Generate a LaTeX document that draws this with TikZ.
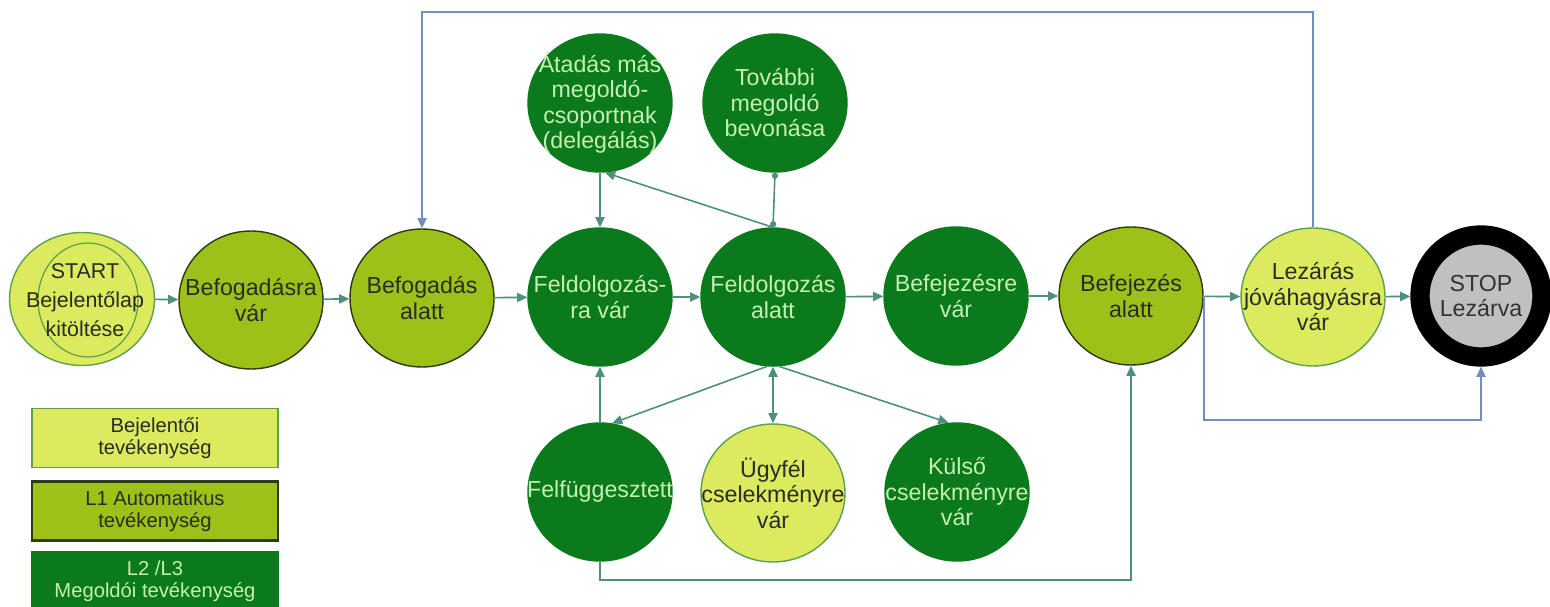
\documentclass[tikz,border=0pt]{standalone}
\usepackage{fontspec}
\setmainfont{Liberation Sans}
\usetikzlibrary{shapes.geometric,arrows.meta}
\definecolor{cLight}{HTML}{DCEB5E}
\definecolor{cLightB}{HTML}{5FA04E}
\definecolor{cMed}{HTML}{9CC21A}
\definecolor{cMedB}{HTML}{2F3A12}
\definecolor{cDark}{HTML}{0A7A1C}
\definecolor{cTxt}{HTML}{2B2B2B}
\definecolor{cTxtL}{HTML}{C6EFB4}
\definecolor{cArr}{HTML}{4E8F7E}
\definecolor{cLoop}{HTML}{6F8FBF}
\definecolor{cStop}{HTML}{C0C0C0}
\begin{document}
\begin{tikzpicture}[x=0.02cm,y=-0.02cm,
  st/.style={ellipse, inner sep=0pt, minimum width=2.88cm, minimum height=2.76cm, line width=0.8pt},
  lt/.style={st, fill=cLight, draw=cLightB},
  md/.style={st, fill=cMed, draw=cMedB},
  dk/.style={st, fill=cDark, draw=cDark},
  stopst/.style={ellipse, inner sep=0pt, minimum width=2.44cm, minimum height=2.44cm, fill=cStop, draw=black, line width=11pt},
  tx/.style={align=center, font=\fontsize{13.2}{14.5}\selectfont, inner sep=0pt, text=cTxt},
  txd/.style={tx, text=cTxtL},
  legbox/.style={rectangle, inner sep=0pt, minimum width=4.92cm, minimum height=1.18cm, line width=0.9pt, align=center, font=\fontsize{11.5}{12.6}\selectfont},
  ar/.style={draw=cArr, line width=0.9pt, -{Triangle[length=5.8pt,width=5.2pt]}},
  lp/.style={draw=cLoop, line width=0.9pt, -{Triangle[length=5.8pt,width=5.2pt]}},
  dotl/.style={draw=cArr, line width=0.9pt, {Circle[length=3.5pt]}-{Circle[length=3.5pt]}}
]
\clip (0,0) rectangle (1550,607);
\fill[white] (0,0) rectangle (1550,607);

\coordinate (topy) at (0,12);
\coordinate (lowy) at (0,580);
\coordinate (ry) at (0,420);

% main row
\node[lt, minimum width=2.9cm, minimum height=2.66cm] (start) at (82,299) {};
\node[st, draw=cLightB, fill=none, line width=0.7pt, minimum width=2.0cm, minimum height=2.28cm] (starti) at (88,300) {};
\node[tx, font=\fontsize{12.2}{16.5}\selectfont] (start-t) at (85,300) {START\\Bejelentőlap\\kitöltése};

\node[md] (bv) at (251,300) {};
\node[tx] (bv-t) at (bv) {Befogadásra\\vár};
\node[md] (bal) at (422,298) {};
\node[tx] (bal-t) at (bal) {Befogadás\\alatt};
\node[dk] (fv) at (600,297) {};
\node[txd] (fv-t) at (fv) {Feldolgozás-\\ra vár};
\node[dk] (fa) at (773,297) {};
\node[txd] (fa-t) at (fa) {Feldolgozás\\alatt};
\node[dk] (bfv) at (956,296) {};
\node[txd] (bfv-t) at (bfv) {Befejezésre\\vár};
\node[md] (ba) at (1131,296) {};
\node[tx] (ba-t) at (ba) {Befejezés\\alatt};
\node[lt] (lz) at (1313,297) {};
\node[tx] (lz-t) at (lz) {Lezárás\\jóváhagyásra\\vár};
\node[stopst] (stop) at (1481,296) {};
\node[tx, text=black!80] (stop-t) at (stop) {STOP\\Lezárva};

% top row
\node[dk] (ad) at (600,103) {};
\node[txd] (ad-t) at (ad) {Átadás más\\megoldó-\\csoportnak\\(delegálás)};
\node[dk] (tb) at (775,103) {};
\node[txd] (tb-t) at (tb) {További\\megoldó\\bevonása};

% bottom row
\node[dk] (ff) at (600,492) {};
\node[txd] (ff-t) at (ff) {Felfüggesztett};
\node[lt] (ugy) at (773,493) {};
\node[tx] (ugy-t) at (ugy) {Ügyfél\\cselekményre\\vár};
\node[dk] (kv) at (957,492) {};
\node[txd] (kv-t) at (kv) {Külső\\cselekményre\\vár};

% legend
\node[legbox, fill=cLight, draw=cLightB, text=cTxt] (lg1) at (155,438) {Bejelentői\\tevékenység};
\node[legbox, fill=cMed, draw=cMedB, line width=1.2pt, text=cTxt] (lg2) at (155,511) {L1 Automatikus\\tevékenység};
\node[legbox, fill=cDark, draw=cDark, text=cTxtL] (lg3) at (155,581) {L2 /L3\\Megoldói tevékenység};

% connectors main row
\draw[ar] (start) -- (bv);
\draw[ar] (bv) -- (bal);
\draw[ar] (bal) -- (fv);
\draw[ar] (fv) -- (fa);
\draw[ar] (fa) -- (bfv);
\draw[ar] (bfv) -- (ba);
\draw[ar] (ba) -- (lz);
\draw[ar] (lz) -- (stop);

% vertical / diagonal
\draw[ar] (ad.south) -- (fv.north);
\draw[ar] (fa.north) -- (ad.-86);
\draw[dotl] (tb.south) -- (fa.north);
\draw[ar] (ff.north) -- (fv.south);
\draw[draw=cArr, line width=0.9pt, {Triangle[length=5.8pt,width=5.2pt]}-{Triangle[length=5.8pt,width=5.2pt]}] (fa.south) -- (ugy.north);
\draw[ar] (fa.-95) -- (ff.80);
\draw[ar] (fa.-85) -- (kv.97);

% loops
\draw[ar] (ff.south) -- (ff.south |- lowy) -| (ba.south);
\draw[lp] (lz.north) -- (lz.north |- topy) -| (bal.north);
\draw[lp] (ba.east) -- (ba.east |- ry) -| (stop.south);
\end{tikzpicture}
\end{document}
